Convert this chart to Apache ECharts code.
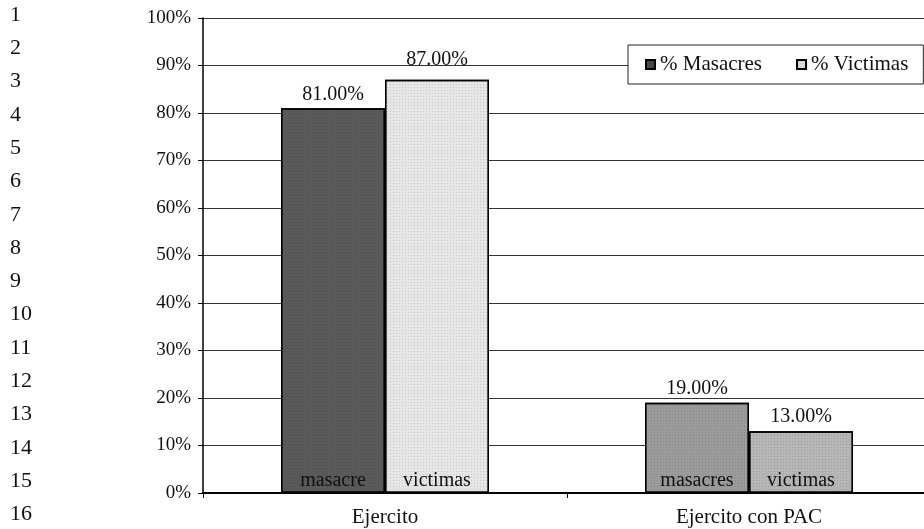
<!DOCTYPE html>
<html>
<head>
<meta charset="utf-8">
<script src="https://cdn.jsdelivr.net/npm/echarts@6/dist/echarts.min.js"></script>
<style>
  html, body { margin: 0; padding: 0; background: #fff; }
  #chart { width: 924px; height: 529px; }
</style>
</head>
<body>
<div id="chart"></div>
<script>
// Categories and percentages
const categories = ['Ejercito', 'Ejercito con PAC'];
const masacres = [81, 19];
const victimas = [87, 13];
// Words printed at the foot of each bar
const masacreTags = ['masacre', 'masacres'];
const victimaTags = ['victimas', 'victimas'];
// Left margin line numbering
const lineNumbers = ['1','2','3','4','5','6','7','8','9','10','11','12','13','14','15','16'];
// Y axis ticks
const yMin = 0, yMax = 100, yStep = 10;

const SERIF = '"Liberation Serif", "Times New Roman", serif';

// Fills per bar (first category, second category)
const masacreFills = ['#5a5a5a', '#9b9b9b'];
const victimaFills = ['#e6e6e6', '#b6b6b6'];
const masacreLabelGap = [4, 4];
const victimaLabelGap = [10, 5];

// fine speckle laid over the fills
const grain = {
  symbol: 'rect',
  symbolSize: 1,
  dashArrayX: [[1, 2]],
  dashArrayY: [1, 2],
  color: 'rgba(0,0,0,0.13)'
};

function items(values, fills, gaps) {
  return values.map((v, i) => ({
    value: v,
    itemStyle: { color: fills[i] },
    label: { distance: gaps[i] }
  }));
}

const chart = echarts.init(document.getElementById('chart'), null, { renderer: 'canvas' });

const numberTexts = lineNumbers.map((t, i) => ({
  type: 'text',
  left: 10,
  top: 4 + i * 33.3,
  style: { text: t, font: '22px ' + SERIF, fill: '#111' }
}));

const valueLabel = {
  show: true,
  position: 'top',
  formatter: p => p.value.toFixed(2) + '%',
  fontFamily: SERIF,
  fontSize: 20,
  color: '#111'
};

const tagLabel = (tags) => ({
  show: true,
  position: 'insideBottom',
  distance: 2,
  formatter: p => tags[p.dataIndex],
  fontFamily: SERIF,
  fontSize: 20,
  color: '#111'
});

chart.setOption({
  animation: false,
  backgroundColor: '#fff',
  textStyle: { fontFamily: SERIF },
  // the plot runs a few pixels past the right edge of the canvas
  grid: { left: 203, top: 18, width: 728, bottom: 36, containLabel: false, outerBoundsMode: 'none' },
  legend: {
    data: ['% Masacres', '% Victimas'],
    left: 628,
    top: 45,
    icon: 'rect',
    itemWidth: 9,
    itemHeight: 9,
    itemGap: 34,
    padding: [9, 15, 9, 17],
    backgroundColor: '#fff',
    borderColor: '#222',
    borderWidth: 1,
    textStyle: { fontFamily: SERIF, fontSize: 21, color: '#111' }
  },
  xAxis: [{
    type: 'category',
    data: categories,
    axisLine: { lineStyle: { color: '#000', width: 2 } },
    axisTick: { show: true, length: 5, lineStyle: { color: '#000' } },
    axisLabel: { fontFamily: SERIF, fontSize: 21, color: '#111', margin: 14 },
    splitLine: { show: false }
  }, {
    type: 'category',
    data: categories,
    show: false
  }],
  yAxis: {
    type: 'value',
    min: yMin,
    max: yMax,
    interval: yStep,
    axisLine: { show: true, lineStyle: { color: '#000', width: 1.5 } },
    axisTick: { show: true, length: 5, lineStyle: { color: '#000' } },
    axisLabel: { formatter: '{value}%', fontFamily: SERIF, fontSize: 19, color: '#111', margin: 12 },
    splitLine: { show: true, lineStyle: { color: '#333', width: 1 } }
  },
  series: [
    {
      name: '% Masacres',
      type: 'bar',
      xAxisIndex: 0,
      barWidth: 104,
      barGap: '0%',
      itemStyle: { color: '#4a4a4a', borderColor: '#000', borderWidth: 1.4, decal: grain },
      label: valueLabel,
      data: items(masacres, masacreFills, masacreLabelGap)
    },
    {
      name: '% Victimas',
      type: 'bar',
      xAxisIndex: 0,
      barWidth: 104,
      barGap: '0%',
      itemStyle: { color: '#dcdcdc', borderColor: '#000', borderWidth: 1.4, decal: grain },
      label: valueLabel,
      data: items(victimas, victimaFills, victimaLabelGap)
    },
    {
      name: 'tag-masacres',
      type: 'bar',
      xAxisIndex: 1,
      barWidth: 104,
      barGap: '0%',
      z: 3,
      silent: true,
      itemStyle: { color: 'rgba(0,0,0,0)' },
      label: tagLabel(masacreTags),
      data: masacres
    },
    {
      name: 'tag-victimas',
      type: 'bar',
      xAxisIndex: 1,
      barWidth: 104,
      barGap: '0%',
      z: 3,
      silent: true,
      itemStyle: { color: 'rgba(0,0,0,0)' },
      label: tagLabel(victimaTags),
      data: victimas
    }
  ],
  graphic: numberTexts
});
</script>
</body>
</html>
